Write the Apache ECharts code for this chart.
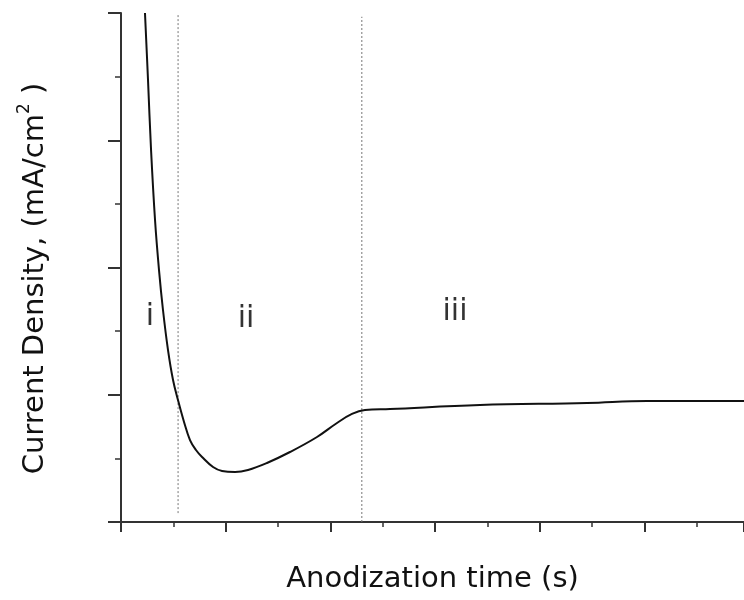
<!DOCTYPE html>
<html>
<head>
<meta charset="utf-8">
<script src="https://cdn.jsdelivr.net/npm/echarts@6/dist/echarts.min.js"></script>
<style>
  html, body { margin: 0; padding: 0; background: #fff; }
  #main { width: 744px; height: 600px; }
</style>
</head>
<body>
<div id="main"></div>
<script>
// current density trace (x in major-tick units)
var timeVals = [0.229, 0.258, 0.287, 0.325, 0.363, 0.401, 0.449, 0.497, 0.544, 0.602, 0.659, 0.716,
    0.774, 0.879, 0.965, 1.089, 1.213, 1.394, 1.614, 1.872, 2.063, 2.206, 2.330, 2.569,
    3.429, 4.451, 5.024, 5.95];
var currentVals = [4.0, 3.473, 2.923, 2.373, 1.980, 1.666, 1.351, 1.116, 0.959, 0.786, 0.644, 0.566,
    0.511, 0.432, 0.401, 0.393, 0.409, 0.464, 0.550, 0.668, 0.778, 0.849, 0.880, 0.888,
    0.919, 0.935, 0.951, 0.951];

// region boundaries (dashed lines) and their vertical extent
var boundX = [0.545, 2.30];
var boundBottom = [0.07, 0];
var boundTop = [4.0, 3.97];

// region labels
var regionNames = ['i', 'ii', 'iii'];
var regionX = [0.277, 1.194, 3.19];
var regionY = [1.61, 1.59, 1.65];

var curve = [];
for (var i = 0; i < timeVals.length; i++) {
    curve.push([timeVals[i], currentVals[i]]);
}

var labels = [];
for (var k = 0; k < regionNames.length; k++) {
    labels.push({value: [regionX[k], regionY[k]], name: regionNames[k]});
}

var series = [];
for (var b = 0; b < boundX.length; b++) {
    series.push({
        type: 'line',
        data: [[boundX[b], boundBottom[b]], [boundX[b], boundTop[b]]],
        symbol: 'none',
        silent: true,
        lineStyle: {color: '#777', width: 1, type: [2, 2]},
        z: 1
    });
}
series.push({
    type: 'line',
    data: curve,
    smooth: 0.4,
    symbol: 'none',
    lineStyle: {color: '#111', width: 2},
    z: 3
});
series.push({
    type: 'scatter',
    data: labels,
    symbolSize: 0,
    silent: true,
    label: {
        show: true,
        position: 'inside',
        formatter: function (p) { return p.name; },
        color: '#000',
        fontFamily: 'DejaVu Sans',
        fontSize: 30
    }
});

var chart = echarts.init(document.getElementById('main'));
chart.setOption({
    animation: false,
    backgroundColor: '#fff',
    grid: {left: 121, right: 0, top: 13, bottom: 78},
    xAxis: {
        type: 'value',
        min: 0,
        max: 5.95,
        interval: 1,
        name: 'Anodization time (s)',
        nameLocation: 'middle',
        nameGap: 43,
        nameTextStyle: {fontFamily: 'DejaVu Sans', fontSize: 29, color: '#111'},
        axisLine: {lineStyle: {color: '#333', width: 2}},
        axisTick: {show: true, length: 10, lineStyle: {color: '#333', width: 2}},
        minorTick: {show: true, splitNumber: 2, length: 5, lineStyle: {color: '#333', width: 1.5}},
        axisLabel: {show: false},
        splitLine: {show: false}
    },
    yAxis: {
        type: 'value',
        min: 0,
        max: 4,
        interval: 1,
        name: '{a|Current Density, (mA/cm}{s|2}{a| )}{p| }',
        nameLocation: 'middle',
        nameGap: 66,
        nameTextStyle: {
            fontFamily: 'DejaVu Sans',
            fontSize: 29,
            color: '#111',
            rich: {
                a: {fontFamily: 'DejaVu Sans', fontSize: 29, color: '#111'},
                s: {fontFamily: 'DejaVu Sans', fontSize: 17, color: '#111', padding: [0, 0, 22, 0]},
                p: {fontSize: 29, width: 22}
            }
        },
        axisLine: {lineStyle: {color: '#333', width: 2}},
        axisTick: {show: true, length: 13, lineStyle: {color: '#333', width: 2}},
        minorTick: {show: true, splitNumber: 2, length: 6, lineStyle: {color: '#333', width: 1.5}},
        axisLabel: {show: false},
        splitLine: {show: false}
    },
    series: series
});
</script>
</body>
</html>
